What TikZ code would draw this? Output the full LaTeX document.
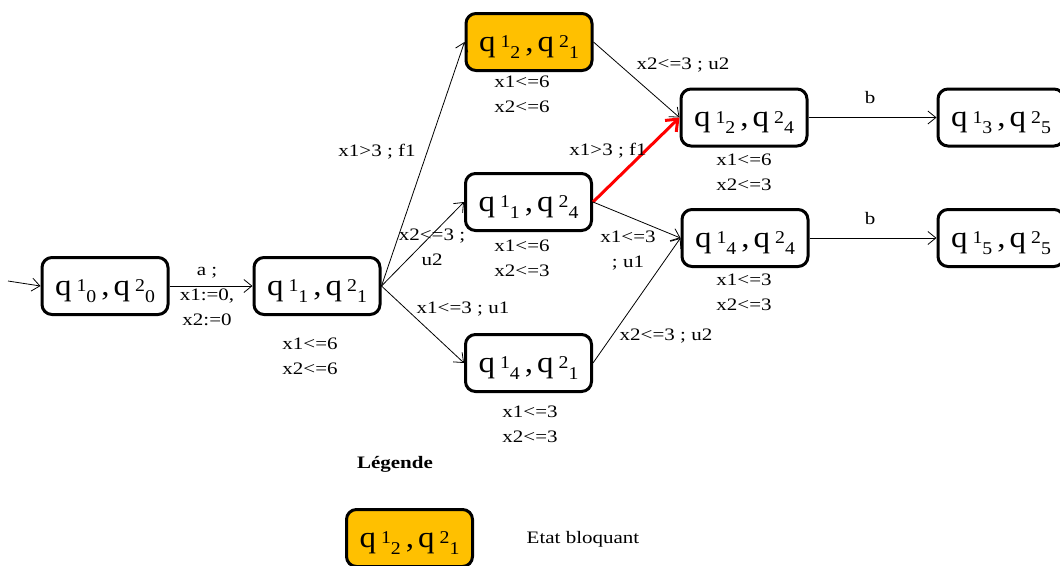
\documentclass[tikz,border=0pt]{standalone}
\usepackage{fontspec}
\setmainfont{Liberation Serif}[FakeStretch=1.2]
\newfontfamily\nodefont{Liberation Serif}[FakeStretch=1.1]
\usetikzlibrary{arrows.meta}
\definecolor{blockorange}{HTML}{FFC000}
\newcommand{\scr}[1]{{\fontsize{18}{18}\selectfont #1}}
\newcommand{\qpair}[4]{q\hspace{5pt}\raisebox{3.5pt}{\scr{#1}}\raisebox{-7pt}{\scr{#2}}\hspace{5pt},\hspace{4pt}q\hspace{5pt}\raisebox{3.5pt}{\scr{#3}}\raisebox{-7pt}{\scr{#4}}}
\begin{document}
\begin{tikzpicture}[x=1pt,y=-1pt,
  state/.style={draw, line width=3pt, rounded corners=10pt, minimum width=126pt, minimum height=57pt, inner sep=0pt, text height=21pt, text depth=3pt, font=\nodefont\fontsize{30}{30}\selectfont},
  blocked/.style={state, fill=blockorange},
  lbl/.style={font=\fontsize{17.5}{25}\selectfont, inner sep=0pt, align=center},
  edge/.style={-{Straight Barb[length=8pt,width=13pt]}, line width=0.8pt},
  hot/.style={-{Straight Barb[length=10pt,width=16pt,line width=3pt]}, line width=3pt, red}]
\useasboundingbox (0,0) rectangle (1060,565);
\clip (0,0) rectangle (1060,565);

\node[state] (n0) at (105,286) {\qpair{1}{0}{2}{0}};
\node[state] (n1) at (317,286) {\qpair{1}{1}{2}{1}};
\node[blocked] (n2) at (529,42) {\qpair{1}{2}{2}{1}};
\node[state] (n3) at (528.5,202) {\qpair{1}{1}{2}{4}};
\node[state] (n4) at (528.5,363) {\qpair{1}{4}{2}{1}};
\node[state] (n5) at (744,117.5) {\qpair{1}{2}{2}{4}};
\node[state] (n6) at (745,238) {\qpair{1}{4}{2}{4}};
\node[state] (n7) at (1001,117.5) {\qpair{1}{3}{2}{5}};
\node[state] (n8) at (1001,238) {\qpair{1}{5}{2}{5}};

\coordinate (init) at (8,281);
\draw[edge] (init) -- (n0.west);
\draw[edge] (n0.east) -- (n1.west);
\draw[edge] (n1.east) -- (n2.west);
\draw[edge] (n1.east) -- (n3.west);
\draw[edge] (n1.east) -- (n4.west);
\draw[edge] (n2.east) -- (n5.west);
\draw[hot] (n3.east) -- (n5.west);
\draw[edge] (n3.east) -- (n6.west);
\draw[edge] (n4.east) -- (n6.west);
\draw[edge] (n5.east) -- (n7.west);
\draw[edge] (n6.east) -- (n8.west);

% edge labels
\node[lbl] (l01) at (207,297) {a ;\\x1:=0,\\x2:=0};
\node[lbl] (l12) at (377,152) {x1>3 ; f1};
\node[lbl] (l13) at (432,247) {x2<=3 ;\\u2};
\node[lbl] (l14) at (463,309) {x1<=3 ; u1};
\node[lbl] (l25) at (683,65) {x2<=3 ; u2};
\node[lbl] (l35) at (608,151) {x1>3 ; f1};
\node[lbl] (l36) at (628,251) {x1<=3\\; u1};
\node[lbl] (l46) at (666,336) {x2<=3 ; u2};
\node[lbl] (l57) at (870,98) {b};
\node[lbl] (l68) at (870,219) {b};

% invariants
\node[lbl] (i1) at (310,356) {x1<=6\\x2<=6};
\node[lbl] (i2) at (522,94) {x1<=6\\x2<=6};
\node[lbl] (i3) at (522,258) {x1<=6\\x2<=3};
\node[lbl] (i4) at (530,424) {x1<=3\\x2<=3};
\node[lbl] (i5) at (744,172) {x1<=6\\x2<=3};
\node[lbl] (i6) at (744,292) {x1<=3\\x2<=3};

% legend
\node[lbl, font=\fontsize{17.5}{25}\selectfont\bfseries] (leg) at (395,464) {Légende};
\node[blocked] (legbox) at (409.5,538) {\qpair{1}{2}{2}{1}};
\node[lbl] (legtxt) at (583,539) {Etat bloquant};
\end{tikzpicture}
\end{document}
